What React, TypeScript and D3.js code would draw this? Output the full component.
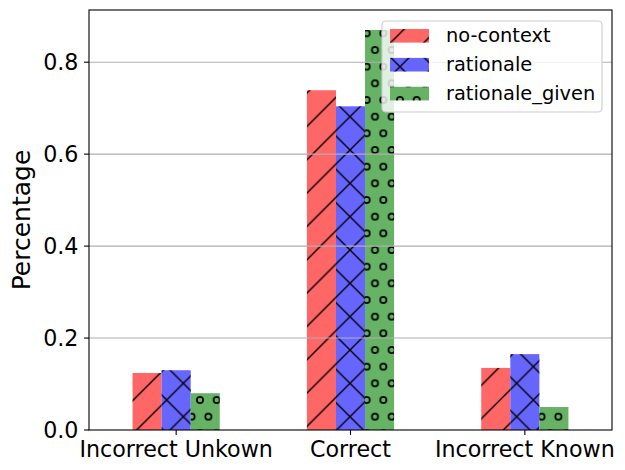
import React from 'react';
import * as d3 from 'd3';

const categories = ['Incorrect Unkown', 'Correct', 'Incorrect Known'];
const noContext = [0.124, 0.739, 0.135];
const rationale = [0.13, 0.704, 0.165];
const rationaleGiven = [0.08, 0.87, 0.05];
const yTicks = [0, 0.2, 0.4, 0.6, 0.8];

const seriesNames = ['no-context', 'rationale', 'rationale_given'];
const seriesValues = [noContext, rationale, rationaleGiven];
const seriesColors = ['#ff6666', '#6666ff', '#66b366'];
const seriesHatch = ['hatch-slash', 'hatch-cross', 'hatch-circle'];

const W = 625;
const H = 470;
const left = 89, right = 612, top = 10, bottom = 430;
const FONT = 'DejaVu Sans, sans-serif';

export default function App() {
  const x = d3.scaleLinear([-0.5, 2.5], [left, right]);
  const y = d3.scaleLinear([0, 0.87 * 1.05], [bottom, top]);
  const barW = x(1 / 6) - x(0);

  const s = 100 / 3;
  const cw = 100 / 6;

  return (
    <div style={{ position: 'absolute', left: 0, top: 0 }}>
      <svg width={W} height={H} style={{ display: 'block', background: '#fff' }}>
        <defs>
          <pattern id="hatch-slash" patternUnits="userSpaceOnUse" width={s} height={s}>
            <g stroke="#000" strokeWidth={1.4}>
              <line x1={-5} y1={5} x2={5} y2={-5} />
              <line x1={-5} y1={s + 5} x2={s + 5} y2={-5} />
              <line x1={s - 5} y1={s + 5} x2={s + 5} y2={s - 5} />
            </g>
          </pattern>
          <pattern id="hatch-cross" patternUnits="userSpaceOnUse" width={s} height={s}>
            <g stroke="#000" strokeWidth={1.4}>
              <line x1={-5} y1={5} x2={5} y2={-5} />
              <line x1={-5} y1={s + 5} x2={s + 5} y2={-5} />
              <line x1={s - 5} y1={s + 5} x2={s + 5} y2={s - 5} />
              <line x1={-5} y1={-5} x2={s + 5} y2={s + 5} />
              <line x1={-5} y1={s - 5} x2={5} y2={s + 5} />
              <line x1={s - 5} y1={-5} x2={s + 5} y2={5} />
            </g>
          </pattern>
          <pattern id="hatch-circle" patternUnits="userSpaceOnUse" width={cw} height={s}>
            <g stroke="#000" strokeWidth={1.7} fill="none">
              {[[0, 0], [cw, 0], [0, s], [cw, s], [cw / 2, s / 2]].map(([cx, cy], i) => (
                <circle key={i} cx={cx} cy={cy} r={3.1} />
              ))}
            </g>
          </pattern>
        </defs>

        {/* bars */}
        {seriesValues.map((vals, si) => (
          <g key={seriesNames[si]}>
            {vals.map((v, ci) => {
              const bx = x(ci + (si - 1) / 6) - barW / 2;
              return (
                <g key={ci}>
                  <rect x={bx} y={y(v)} width={barW} height={y(0) - y(v)} fill={seriesColors[si]} />
                  <rect x={bx} y={y(v)} width={barW} height={y(0) - y(v)} fill={`url(#${seriesHatch[si]})`} />
                </g>
              );
            })}
          </g>
        ))}

        {/* grid */}
        {yTicks.filter(t => t > 0).map(t => (
          <line key={t} x1={left} x2={right} y1={y(t)} y2={y(t)} stroke="#b0b0b0" strokeWidth={1.1} />
        ))}

        {/* spines */}
        <rect x={left} y={top} width={right - left} height={bottom - top} fill="none" stroke="#000" strokeWidth={1.1} />

        {/* y axis */}
        {yTicks.map(t => (
          <g key={t}>
            <line x1={left - 4.9} x2={left} y1={y(t)} y2={y(t)} stroke="#000" strokeWidth={1.1} />
            <text x={left - 10.5} y={y(t) + 8} textAnchor="end" fontFamily={FONT} fontSize={22.2} fill="#000">
              {t.toFixed(1)}
            </text>
          </g>
        ))}
        <text transform={`translate(29.5,${(top + bottom) / 2}) rotate(-90)`} textAnchor="middle"
          fontFamily={FONT} fontSize={25} fill="#000">Percentage</text>

        {/* x axis */}
        {categories.map((c, i) => (
          <g key={c}>
            <line x1={x(i)} x2={x(i)} y1={bottom} y2={bottom + 4.9} stroke="#000" strokeWidth={1.1} />
            <text x={x(i)} y={456.5} textAnchor="middle" fontFamily={FONT} fontSize={22.2} fill="#000">{c}</text>
          </g>
        ))}

        {/* legend */}
        <rect x={382} y={21} width={220} height={91} rx={4} fill="#fff" fillOpacity={0.8} stroke="#cccccc" strokeWidth={1.1} />
        {seriesNames.map((n, i) => {
          const cy = 35.8 + i * 28.9;
          return (
            <g key={n}>
              <rect x={390} y={cy - 6.8} width={39} height={13.6} fill={seriesColors[i]} />
              <rect x={390} y={cy - 6.8} width={39} height={13.6} fill={`url(#${seriesHatch[i]})`} />
              <text x={446} y={cy + 6.5} fontFamily={FONT} fontSize={19.4} fill="#000">{n}</text>
            </g>
          );
        })}
      </svg>
    </div>
  );
}
